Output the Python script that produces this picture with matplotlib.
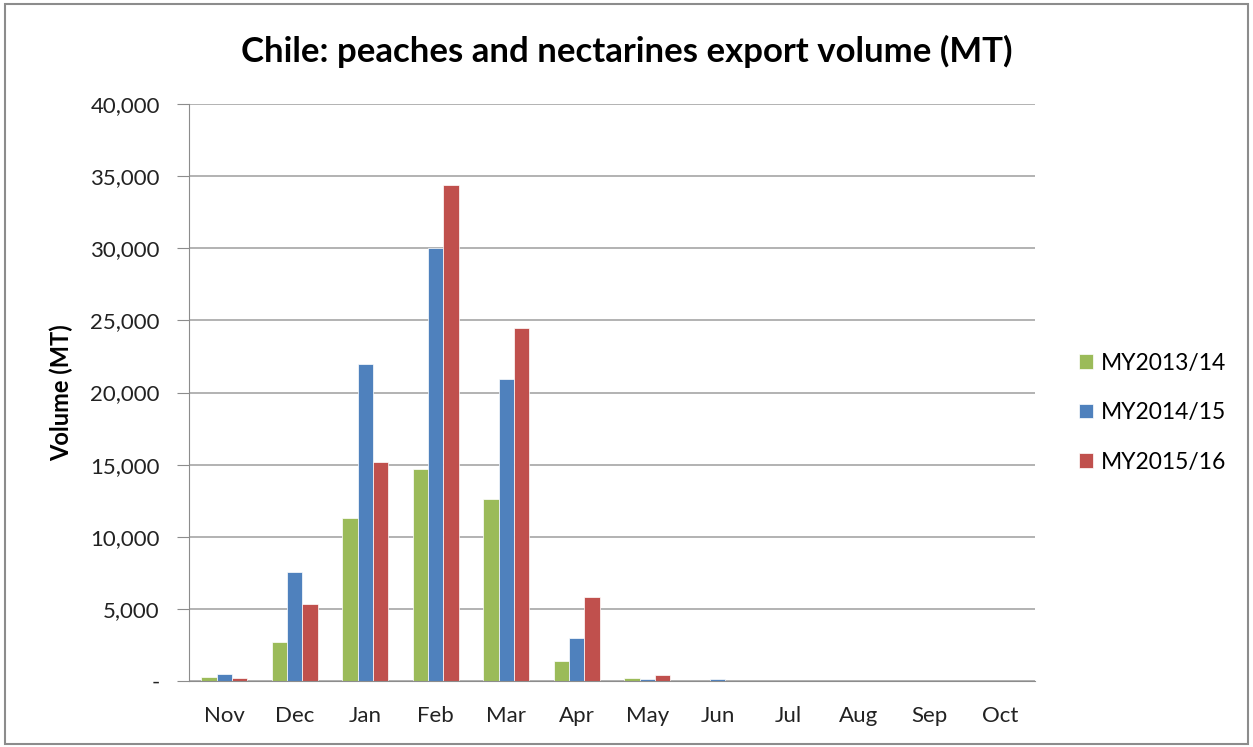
import matplotlib.pyplot as plt
import numpy as np
from matplotlib.patches import Rectangle
from matplotlib.ticker import FuncFormatter

plt.rcParams['font.family'] = ['Lato', 'DejaVu Sans']

months = ['Nov', 'Dec', 'Jan', 'Feb', 'Mar', 'Apr', 'May', 'Jun', 'Jul', 'Aug', 'Sep', 'Oct']
my2013 = [300, 2680, 11280, 14730, 12600, 1370, 230, 0, 0, 0, 0, 0]
my2014 = [490, 7540, 21970, 30040, 20920, 2950, 160, 160, 0, 0, 0, 0]
my2015 = [230, 5320, 15170, 34380, 24460, 5850, 390, 0, 0, 0, 0, 0]
series_names = ['MY2013/14', 'MY2014/15', 'MY2015/16']
colors = ['#9BBB59', '#4F81BD', '#C0504D']

fig = plt.figure(figsize=(12.53, 7.47), dpi=100)
ax = fig.add_axes([189 / 1253, 66 / 747, 846 / 1253, 577 / 747])

# outer chart frame
fig.patches.append(Rectangle((0.004, 0.004), 0.992, 0.99, transform=fig.transFigure,
                             fill=False, edgecolor='#8C8C8C', linewidth=1.5))

x = np.arange(len(months))
w = 0.217
for i, (vals, name, c) in enumerate(zip([my2013, my2014, my2015], series_names, colors)):
    ax.bar(x + (i - 1) * w, vals, w, color=c, label=name, edgecolor='white', linewidth=0.5)

ax.set_xlim(-0.5, len(months) - 0.5)
ax.set_ylim(0, 40000)
ax.set_yticks(np.arange(0, 40001, 5000))
ax.yaxis.set_major_formatter(FuncFormatter(lambda v, p: '-' if v == 0 else f'{int(v):,}'))
ax.set_xticks(x)
ax.set_xticklabels(months)
ax.grid(axis='y', color='#A6A6A6', linewidth=1.2)
ax.set_axisbelow(True)
for s in ['top', 'right']:
    ax.spines[s].set_visible(False)
ax.spines['left'].set_color('#8C8C8C')
ax.spines['bottom'].set_color('#8C8C8C')
ax.tick_params(axis='y', length=9, color='#8C8C8C', labelsize=16, labelcolor='#222222', pad=12)
ax.tick_params(axis='x', length=0, labelsize=16, labelcolor='#222222', pad=18)

ax.set_ylabel('Volume (MT)', fontsize=17, fontweight='bold', labelpad=12)
fig.suptitle('Chile: peaches and nectarines export volume (MT)', fontsize=25, fontweight='bold', y=0.953, x=0.5)

ax.legend(loc='center left', bbox_to_anchor=(1.028, 0.465), frameon=False, fontsize=16.5,
          handlelength=0.6, handleheight=0.6, handletextpad=0.35, labelspacing=1.25)

plt.savefig('out.png', dpi=100)
